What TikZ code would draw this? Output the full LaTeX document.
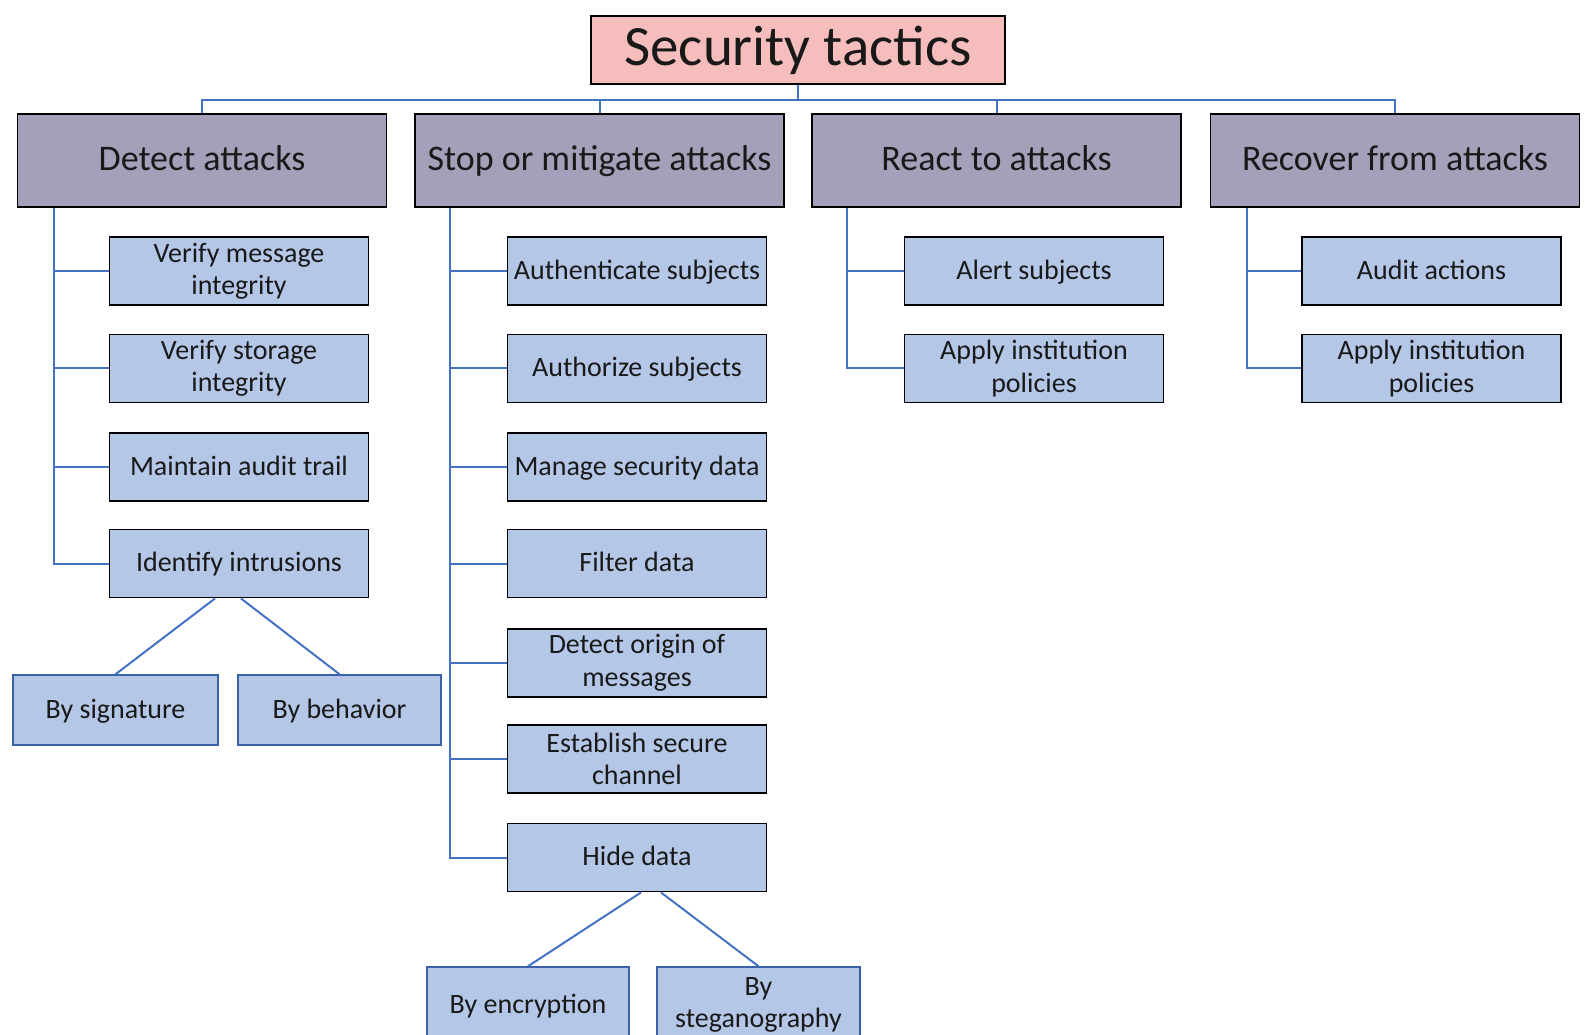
\documentclass[tikz,border=0pt]{standalone}
\usepackage{fontspec}
\setmainfont{Carlito}
\usetikzlibrary{positioning}

\definecolor{rootpink}{HTML}{F6BDBD}
\definecolor{catgray}{HTML}{A5A0B9}
\definecolor{tacblue}{HTML}{B4C7E7}
\definecolor{linkblue}{HTML}{4472C4}

\tikzset{
  rootbox/.style={draw=black, fill=rootpink, line width=1.6pt, minimum width=414pt, minimum height=68pt, inner sep=0pt, text height=41.6pt, text depth=11.4pt, text=black!90, font=\fontsize{57}{62}\selectfont},
  catbox/.style={draw=black, fill=catgray, line width=1.8pt, minimum width=369pt, minimum height=93pt, inner sep=0pt, text height=27.8pt, text depth=7.9pt, text=black!90, font=\fontsize{36}{40}\selectfont},
  tacbox/.style={draw=black, fill=tacblue, line width=1.5pt, minimum width=259pt, minimum height=68pt, inner sep=0pt, align=center, text height=22.5pt, text depth=6.2pt, text=black!90, font=\fontsize{28}{32.5}\selectfont},
  twoline/.style={text height={}, text depth={}},
  subbox/.style={tacbox, draw=linkblue!85!black},
  link/.style={draw=linkblue, line width=2pt}
}

\begin{document}
\begin{tikzpicture}[x=1pt, y=-1pt]
\useasboundingbox (0,0) rectangle (1587,1034);

% Root
\node[rootbox] (root) at (798,50) {Security tactics};

% Categories
\node[catbox] (detect)  at (202,160.5)    {Detect attacks};
\node[catbox] (stop)    at (599.5,160.5)  {Stop or mitigate attacks};
\node[catbox] (react)   at (996.5,160.5)  {React to attacks};
\node[catbox] (recover) at (1395,160.5)   {Recover from attacks};

% Detect attacks
\node[tacbox, twoline] (d1) at (239,271.2) {Verify message\\integrity};
\node[tacbox, twoline] (d2) at (239,368.4) {Verify storage\\integrity};
\node[tacbox] (d3) at (239,467)   {Maintain audit trail};
\node[tacbox] (d4) at (239,563.7) {Identify intrusions};
\node[subbox, minimum width=205pt, minimum height=70pt] (sig) at (115.5,710) {By signature};
\node[subbox, minimum width=203pt, minimum height=70pt] (beh) at (339.5,710) {By behavior};

% Stop or mitigate attacks
\node[tacbox] (s1) at (637,271.2) {Authenticate subjects};
\node[tacbox] (s2) at (637,368.4) {Authorize subjects};
\node[tacbox] (s3) at (637,467)   {Manage security data};
\node[tacbox] (s4) at (637,563.7) {Filter data};
\node[tacbox, twoline] (s5) at (637,662.9) {Detect origin of\\messages};
\node[tacbox, twoline] (s6) at (637,759)   {Establish secure\\channel};
\node[tacbox] (s7) at (637,857.7) {Hide data};
\node[subbox, minimum width=202pt, minimum height=76pt] (enc)  at (528,1005)   {By encryption};
\node[subbox, twoline, minimum width=203pt, minimum height=76pt] (steg) at (758.5,1005) {By\\steganography};

% React to attacks
\node[tacbox] (r1) at (1034,271.2) {Alert subjects};
\node[tacbox, twoline] (r2) at (1034,368.4) {Apply institution\\policies};

% Recover from attacks
\node[tacbox] (v1) at (1431.5,271.2) {Audit actions};
\node[tacbox, twoline] (v2) at (1431.5,368.4) {Apply institution\\policies};

% Connectors
\foreach \c in {detect, stop, react, recover}
  \draw[link] (root.south) -- ++(0,15) -| (\c.north);

\foreach \n in {d1, d2, d3, d4}
  \draw[link] ([xshift=37pt]detect.south west) |- (\n.west);
\foreach \n in {s1, s2, s3, s4, s5, s6, s7}
  \draw[link] ([xshift=36pt]stop.south west) |- (\n.west);
\foreach \n in {r1, r2}
  \draw[link] ([xshift=36pt]react.south west) |- (\n.west);
\foreach \n in {v1, v2}
  \draw[link] ([xshift=37pt]recover.south west) |- (\n.west);

\draw[link] ([xshift=-24pt]d4.south) -- (sig.north);
\draw[link] ([xshift=2pt]d4.south) -- (beh.north);
\draw[link] ([xshift=4pt]s7.south) -- (enc.north);
\draw[link] ([xshift=24pt]s7.south) -- (steg.north);
\end{tikzpicture}
\end{document}
